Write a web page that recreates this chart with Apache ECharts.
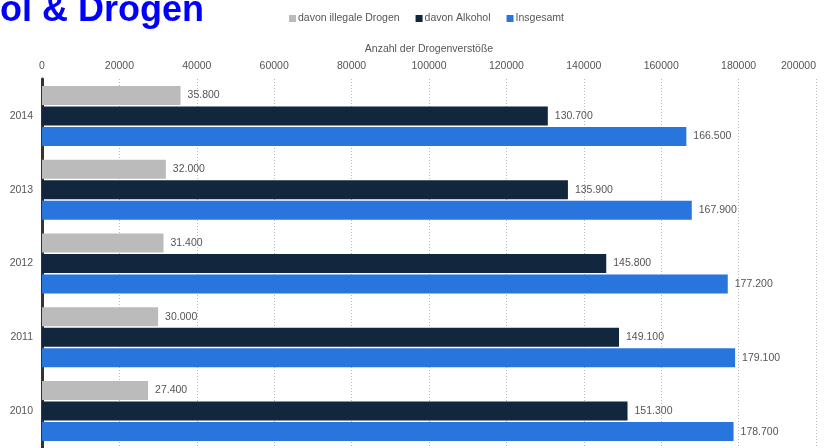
<!DOCTYPE html>
<html>
<head>
<meta charset="utf-8">
<title>Alkohol & Drogen</title>
<script src="https://cdn.jsdelivr.net/npm/echarts@6/dist/echarts.min.js"></script>
<style>
  html, body { margin: 0; padding: 0; background: #ffffff; }
  #chart { width: 834px; height: 448px; }
</style>
</head>
<body>
<div id="chart"></div>
<script>
// Years, top to bottom
const years = ['2014', '2013', '2012', '2011', '2010'];
// Drug offences by type
const illegaleDrogen = [35800, 32000, 31400, 30000, 27400];
const alkohol = [130700, 135900, 145800, 149100, 151300];
const insgesamt = [166500, 167900, 177200, 179100, 178700];
const seriesNames = ['davon illegale Drogen', 'davon Alkohol', 'Insgesamt'];
const axisMax = 200000;
const axisStep = 20000;

const FONT = '"Liberation Sans", Arial, Helvetica, sans-serif';
const TITLE_FONT = 'bold 36px ' + FONT;

// German thousands separator: 35800 -> "35.800"
function formatDe(v) {
  return String(Math.round(v)).replace(/\B(?=(\d{3})+(?!\d))/g, '.');
}

const chart = echarts.init(document.getElementById('chart'), null, { renderer: 'canvas' });

function barSeries(name, data, color) {
  return {
    name: name,
    type: 'bar',
    data: data,
    barWidth: 19,
    barGap: '8%',
    itemStyle: { color: color },
    label: {
      show: true,
      position: 'right',
      distance: 7,
      color: '#555',
      fontFamily: FONT,
      fontSize: 10.5,
      formatter: p => formatDe(p.value)
    },
    emphasis: { disabled: true },
    animation: false
  };
}

chart.setOption({
  animation: false,
  textStyle: { fontFamily: FONT },
  graphic: [{
    // Title runs off the left edge; it is anchored by its right end
    type: 'text',
    x: 204,
    y: 29,
    style: {
      text: 'Alkohol & Drogen',
      fill: '#0000ff',
      font: TITLE_FONT,
      align: 'right',
      verticalAlign: 'bottom'
    }
  }],
  legend: {
    data: seriesNames,
    top: 8,
    left: 284,
    itemWidth: 7,
    itemHeight: 7,
    itemGap: 16,
    icon: 'rect',
    textStyle: { color: '#555', fontSize: 10.5, fontFamily: FONT, padding: [0, 0, 0, -3] }
  },
  grid: {
    left: 42,
    right: 18,
    top: 79,
    bottom: -2,
    containLabel: false
  },
  xAxis: {
    type: 'value',
    position: 'top',
    min: 0,
    max: axisMax,
    interval: axisStep,
    name: 'Anzahl der Drogenverstöße',
    nameLocation: 'middle',
    nameGap: 24,
    nameTextStyle: { color: '#555', fontSize: 10.5, fontFamily: FONT },
    axisLine: { show: false },
    axisTick: { show: false },
    axisLabel: {
      color: '#555',
      fontSize: 10.5,
      fontFamily: FONT,
      margin: 7,
      alignMaxLabel: 'right',
      formatter: v => String(v)
    },
    splitLine: {
      show: true,
      lineStyle: { color: '#b8b8b8', type: [1, 2], width: 1 }
    }
  },
  yAxis: {
    type: 'category',
    data: years,
    inverse: true,
    axisLine: { show: true, lineStyle: { color: '#333', width: 3 } },
    axisTick: { show: false },
    axisLabel: { color: '#555', fontSize: 10.5, fontFamily: FONT, margin: 9 }
  },
  series: [
    barSeries(seriesNames[0], illegaleDrogen, '#bbbbbb'),
    barSeries(seriesNames[1], alkohol, '#12263d'),
    barSeries(seriesNames[2], insgesamt, '#2876dd')
  ]
});
</script>
</body>
</html>
